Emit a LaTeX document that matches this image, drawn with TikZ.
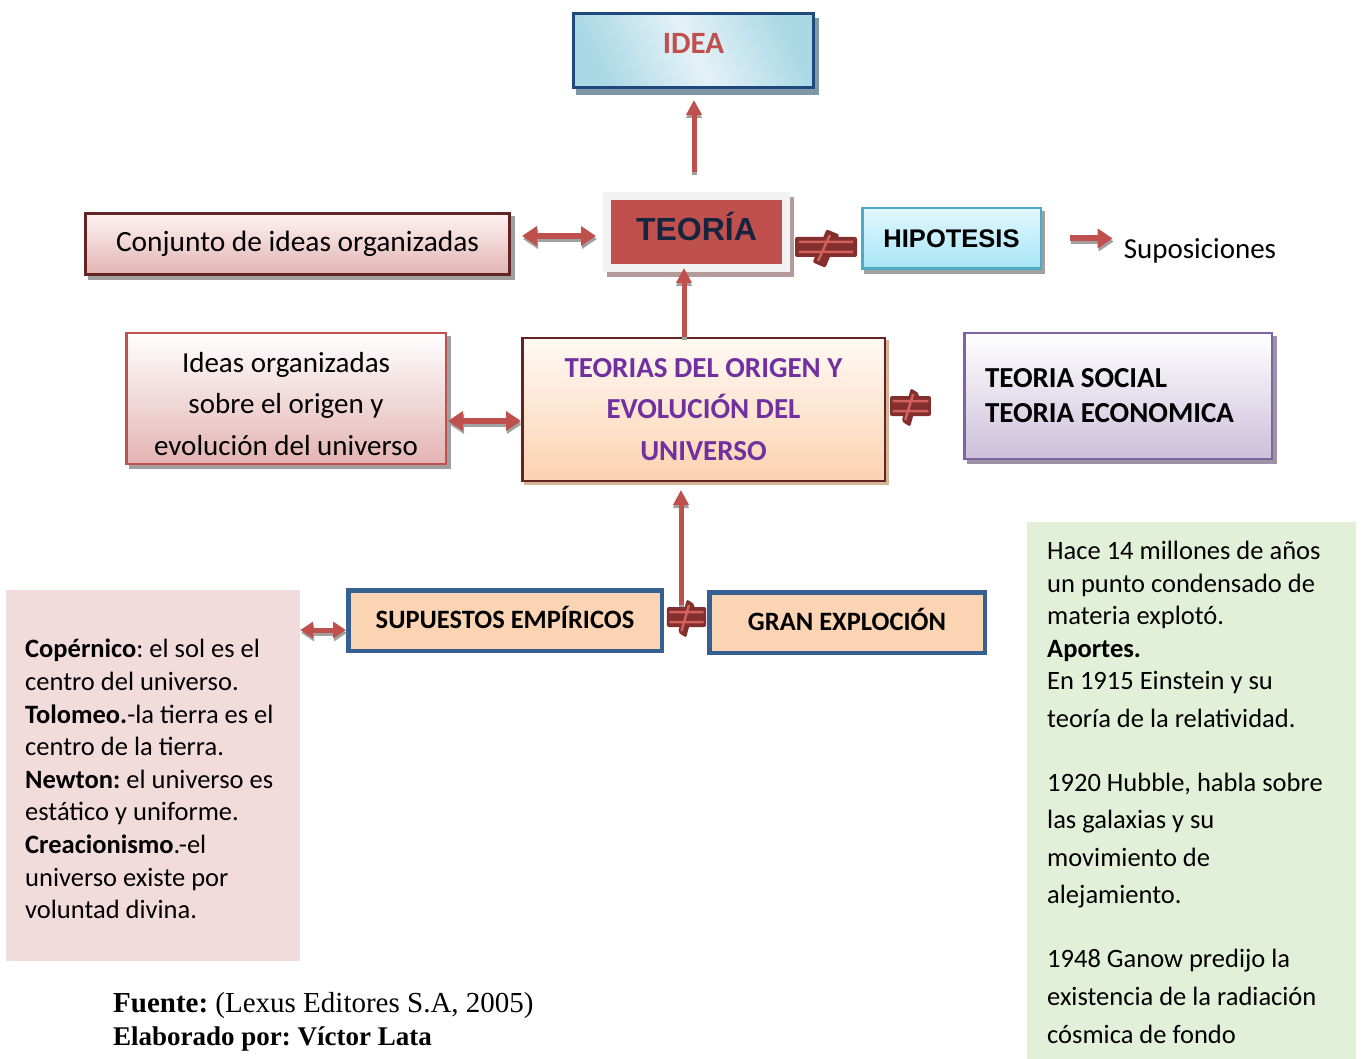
\documentclass[tikz,border=0pt]{standalone}
\usepackage{fontspec}
\setmainfont{Carlito}
\newfontfamily\arialfont{Liberation Sans}
\newfontfamily\timesfont{Liberation Serif}
\usetikzlibrary{arrows.meta,backgrounds}
\frenchspacing

\definecolor{arrred}{HTML}{C0504D}
\definecolor{shadowgray}{HTML}{A0A0A0}
\definecolor{ideablue}{HTML}{1F497D}
\definecolor{ideaD}{HTML}{AAD8E5}
\definecolor{ideaL}{HTML}{E4F2F7}
\definecolor{ideashadow}{HTML}{7F98A6}
\definecolor{frameg}{HTML}{F2F2F2}
\definecolor{teoshadow}{HTML}{B49A9A}
\definecolor{navy}{HTML}{17243D}
\definecolor{conjborder}{HTML}{632523}
\definecolor{pinkA}{HTML}{FDF3F3}
\definecolor{pinkB}{HTML}{E3B4B3}
\definecolor{hipoborder}{HTML}{4BACC6}
\definecolor{hipoA}{HTML}{E3F8FD}
\definecolor{hipoB}{HTML}{A6E4F6}
\definecolor{peachA}{HTML}{FFF9F4}
\definecolor{peachB}{HTML}{FBD2B0}
\definecolor{tanshadow}{HTML}{D6B496}
\definecolor{purpleborder}{HTML}{8064A2}
\definecolor{lavA}{HTML}{FFFFFF}
\definecolor{lavB}{HTML}{CCC0DA}
\definecolor{lavshadow}{HTML}{9C94A6}
\definecolor{purpletext}{HTML}{7030A0}
\definecolor{supborder}{HTML}{366092}
\definecolor{supfill}{HTML}{FBD4B4}
\definecolor{pinkbox}{HTML}{F2DCDB}
\definecolor{greenbox}{HTML}{E2F0D9}
\definecolor{neqdark}{HTML}{832F2D}
\definecolor{neqline}{HTML}{D2605B}

\begin{document}
\begin{tikzpicture}[x=1pt,y=-1pt,
  box/.style={rectangle, inner sep=0pt},
  dblarr/.style={draw=arrred, line width=6pt, {Triangle[width=19pt,length=15pt]}-{Triangle[width=19pt,length=15pt]}},
  smalldbl/.style={draw=arrred, line width=5pt, {Triangle[width=16pt,length=13pt]}-{Triangle[width=16pt,length=13pt]}},
  sglarr/.style={draw=arrred, line width=6pt, -{Triangle[width=19pt,length=15pt]}},
  uparr/.style={draw=arrred, line width=5pt, -{Triangle[width=15pt,length=15pt]}},
  shad/.style={draw=shadowgray, transform canvas={shift={(1pt,-3pt)}}},
  vshad/.style={draw=shadowgray, transform canvas={shift={(0pt,-3pt)}}},
  neqsign/.pic={
    \fill[neqdark, rounded corners=2pt] (-31,-10) rectangle (31,10);
    \fill[neqdark, rounded corners=2pt] (-13.4,15.3) -- (-0.6,20.7) -- (13.4,-12.3) -- (0.6,-17.7) -- cycle;
    \draw[neqline, line width=2.5pt] (-27,-5) -- (27,-5) (-27,5) -- (27,5) (4,-12) -- (-8,14);
  }
]
\path[use as bounding box] (0,0) rectangle (1363,1059);

% boxes
\node[box, draw=ideablue, line width=3pt, top color=ideaD, bottom color=ideaD, middle color=ideaL, shading angle=-65,
  minimum width=240pt, minimum height=74pt, text=arrred, font=\fontsize{31}{37}\bfseries\selectfont] (idea) at (693.5,50.5) {\raisebox{15pt}{IDEA}};

\node[box, draw=frameg, line width=8pt, fill=arrred, minimum width=179pt, minimum height=72pt,
  text=navy, font=\arialfont\bfseries\fontsize{32}{38}\selectfont] (teoria) at (696.5,232) {\raisebox{12pt}{TEORÍA}};

\node[box, draw=conjborder, line width=3pt, top color=pinkA, bottom color=pinkB,
  minimum width=424pt, minimum height=61pt, font=\fontsize{29.4}{35}\selectfont] (conj) at (297.5,244) {Conjunto de ideas organizadas};

\node[box, draw=hipoborder, line width=2.5pt, top color=hipoA, bottom color=hipoB,
  minimum width=178.5pt, minimum height=60.5pt, font=\arialfont\bfseries\fontsize{25.5}{30}\selectfont] (hipo) at (951.5,238.5) {HIPOTESIS};

\node[inner sep=0pt, font=\fontsize{29}{35}\selectfont] (supos) at (1200,251) {Suposiciones};

\node[box, draw=arrred, line width=2.5pt, top color=white, bottom color=pinkB, align=center,
  minimum width=319.5pt, minimum height=130.5pt, font=\fontsize{29}{41.5}\selectfont] (ideas) at (286,398.5)
  {\\[-11pt]Ideas organizadas\\ sobre el origen y\\ evolución del universo};

\node[box, draw=conjborder, line width=2.5pt, top color=peachA, bottom color=peachB, align=center,
  minimum width=362.5pt, minimum height=142.5pt, text=purpletext, font=\fontsize{29}{41.5}\bfseries\selectfont] (teorias) at (703.5,409.5)
  {TEORIAS DEL ORIGEN Y\\ EVOLUCIÓN DEL\\ UNIVERSO};

\node[box, draw=purpleborder, line width=2.5pt, top color=lavA, bottom color=lavB, align=flush left, text width=266pt,
  minimum width=307.5pt, minimum height=125.5pt, font=\fontsize{29}{35}\bfseries\selectfont] (social) at (1118,396)
  {TEORIA SOCIAL\\ TEORIA ECONOMICA};

\node[box, draw=supborder, line width=4.5pt, fill=supfill, minimum width=313.5pt, minimum height=60.5pt,
  font=\fontsize{26.5}{32}\bfseries\selectfont] (supuestos) at (505,620.5) {\raisebox{6pt}{SUPUESTOS EMPÍRICOS}};

\node[box, draw=supborder, line width=4.5pt, fill=supfill, minimum width=275.5pt, minimum height=60.5pt,
  font=\fontsize{26.5}{32}\bfseries\selectfont] (gran) at (847,622.5) {\raisebox{6pt}{GRAN EXPLOCIÓN}};

\node[box, fill=pinkbox, minimum width=294pt, minimum height=371pt] (pink) at (153,775.5) {};
\node[anchor=north west, inner sep=0pt, align=left, font=\fontsize{26.5}{32.6}\selectfont] (pinktxt) at (25,639)
  {\textbf{Copérnico}: el sol es el\\ centro del universo.\\ \textbf{Tolomeo.}-la tierra es el\\ centro de la tierra.\\
   \textbf{Newton:} el universo es\\ estático y uniforme.\\ \textbf{Creacionismo}.-el\\ universo existe por\\ voluntad divina.};

\node[box, fill=greenbox, minimum width=329pt, minimum height=537pt] (green) at (1191.5,790.5) {};
\node[anchor=north west, inner sep=0pt, align=left, font=\fontsize{26.5}{32.5}\selectfont] (greentxt) at (1047,541)
  {Hace 14 millones de años\\ un punto condensado de\\ materia explotó.\\ \textbf{Aportes.}\\ En 1915 Einstein y su\\[5.5pt]
   teoría de la relatividad.\\[31.5pt] 1920 Hubble, habla sobre\\[4.5pt] las galaxias y su\\[5.5pt] movimiento de\\[4.5pt]
   alejamiento.\\[31.5pt] 1948 Ganow predijo la\\[5.5pt] existencia de la radiación\\[5.5pt] cósmica de fondo};

\node[anchor=north west, inner sep=0pt, align=left, font=\timesfont\fontsize{29}{33}\selectfont] (src) at (113,992)
  {\textbf{Fuente:} (Lexus Editores S.A, 2005)\\ {\fontsize{27}{33}\selectfont\textbf{Elaborado por: Víctor Lata}}};

% shadows and background
\begin{pgfonlayer}{background}
\fill[white] (0,0) rectangle (1363,1059);
\fill[ideashadow] ([shift={(4pt,-6pt)}]idea.south west) rectangle ([shift={(4pt,-6pt)}]idea.north east);
\fill[teoshadow] ([shift={(4pt,-5pt)}]teoria.south west) rectangle ([shift={(4pt,-5pt)}]teoria.north east);
\fill[shadowgray] ([shift={(4pt,-4pt)}]conj.south west) rectangle ([shift={(4pt,-4pt)}]conj.north east);
\fill[shadowgray] ([shift={(3pt,-4pt)}]hipo.south west) rectangle ([shift={(3pt,-4pt)}]hipo.north east);
\fill[shadowgray] ([shift={(4pt,-4pt)}]ideas.south west) rectangle ([shift={(4pt,-4pt)}]ideas.north east);
\fill[tanshadow] ([shift={(3pt,-3pt)}]teorias.south west) rectangle ([shift={(3pt,-3pt)}]teorias.north east);
\fill[lavshadow] ([shift={(4pt,-4pt)}]social.south west) rectangle ([shift={(4pt,-4pt)}]social.north east);
\end{pgfonlayer}

% connectors
\draw[uparr, vshad, shorten <=20pt, shorten >=11pt] ([xshift=-2.5pt]teoria.north) -- ([xshift=-2.5pt]teoria.north |- idea.south);
\draw[uparr, shorten <=20pt, shorten >=11pt] ([xshift=-2.5pt]teoria.north) -- ([xshift=-2.5pt]teoria.north |- idea.south);

\draw[dblarr, shad, shorten <=11pt, shorten >=7pt] ([yshift=8pt]conj.east) -- ([yshift=8pt]conj.east -| teoria.west);
\draw[dblarr, shorten <=11pt, shorten >=7pt] ([yshift=8pt]conj.east) -- ([yshift=8pt]conj.east -| teoria.west);

\draw[sglarr, shad, shorten <=28pt, shorten >=11pt] (hipo.east) -- (hipo.east -| supos.west);
\draw[sglarr, shorten <=28pt, shorten >=11pt] (hipo.east) -- (hipo.east -| supos.west);

\draw[uparr, vshad, shorten >=-4pt] ([xshift=-19.5pt]teorias.north) -- ([xshift=-19.5pt]teorias.north |- teoria.south);
\draw[uparr, shorten >=-4pt] ([xshift=-19.5pt]teorias.north) -- ([xshift=-19.5pt]teorias.north |- teoria.south);

\draw[dblarr, shad, shorten <=1pt] ([yshift=-22.5pt]ideas.east) -- ([yshift=-22.5pt]ideas.east -| teorias.west);
\draw[dblarr, shorten <=1pt] ([yshift=-22.5pt]ideas.east) -- ([yshift=-22.5pt]ideas.east -| teorias.west);

\coordinate (n3) at (681,617);
\draw[uparr, vshad, shorten <=12pt, shorten >=8pt] (n3) -- (n3 |- teorias.south);
\draw[uparr, shorten <=12pt, shorten >=8pt] (n3) -- (n3 |- teorias.south);

\draw[smalldbl, shad] ([yshift=-9.5pt]supuestos.west) -- ([yshift=-9.5pt]supuestos.west -| pink.east);
\draw[smalldbl] ([yshift=-9.5pt]supuestos.west) -- ([yshift=-9.5pt]supuestos.west -| pink.east);

% not-equal connectors
\pic (ne1) at (826,247) {neqsign};
\pic[xscale=0.66] (ne2) at (910.5,406) {neqsign};
\pic[xscale=0.63] (ne3) at (686.5,617) {neqsign};
\end{tikzpicture}
\end{document}
